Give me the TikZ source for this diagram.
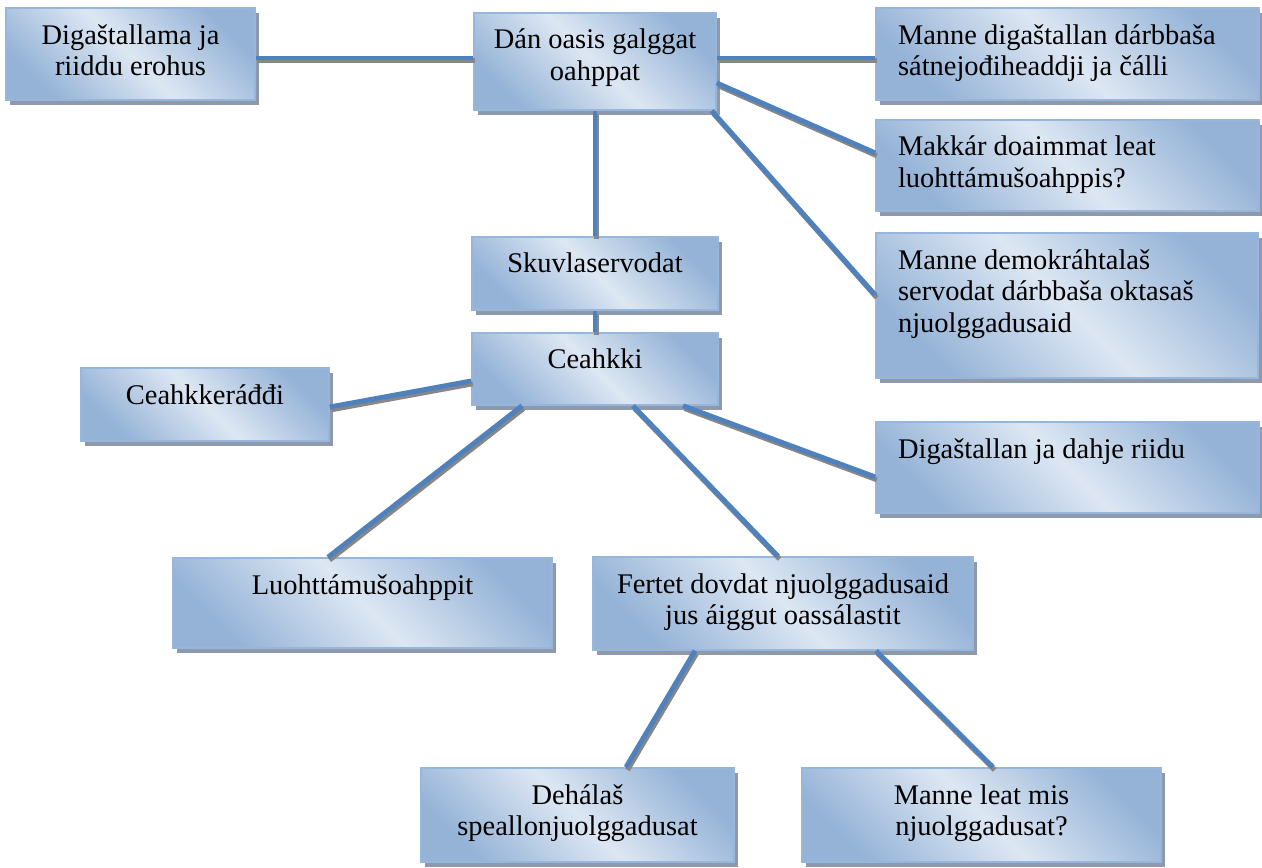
\documentclass[tikz,border=0pt]{standalone}
\usepackage{fontspec}
\setmainfont{Liberation Serif}
\usetikzlibrary{calc,shadows}

\definecolor{boxlight}{RGB}{221,231,243}
\definecolor{boxdark}{RGB}{149,179,215}
\definecolor{boxline}{RGB}{150,182,220}
\definecolor{boxshade}{RGB}{142,154,172}
\definecolor{linkblue}{RGB}{79,129,189}
\definecolor{linkshade}{RGB}{135,135,135}

\newcommand{\mtext}[3]{\parbox[c][#2][t]{#1}{\centering\rule{0pt}{0.72cm}#3}}
\newcommand{\ltext}[3]{\parbox[c][#2][t]{#1}{\raggedright\leftskip=0.44cm\rule{0pt}{0.72cm}#3}}
\newcommand{\link}[2]{%
  \draw[linkback] #1 -- #2;
  \draw[link] #1 -- #2;}

\tikzset{
  box/.style={inner sep=0pt, draw=boxline, line width=0.9pt,
    left color=boxdark, right color=boxdark, middle color=boxlight, shading angle=135,
    drop shadow={shadow xshift=2.3pt, shadow yshift=-2.6pt, fill=boxshade, opacity=1},
    font=\fontsize{16.2}{18.1}\selectfont},
  link/.style={draw=linkblue, line width=2.8pt},
  linkback/.style={draw=linkshade, line width=2.8pt,
    transform canvas={xshift=0.9pt, yshift=-1.6pt}}
}

\begin{document}
\begin{tikzpicture}[x=0.02cm, y=-0.02cm]
\useasboundingbox (0,0) rectangle (1262,868);

\node[box] (erohus) at (130.5,54) {\mtext{4.98cm}{1.84cm}{Digaštallama ja\\riiddu erohus}};
\node[box] (oasis) at (595,61.5) {\mtext{4.84cm}{1.94cm}{Dán oasis galggat\\oahppat}};
\node[box] (satne) at (1067.5,54) {\ltext{7.66cm}{1.84cm}{Manne digaštallan dárbbaša\\sátnejođiheaddji ja čálli}};
\node[box] (doaimmat) at (1067.5,165.5) {\ltext{7.66cm}{1.82cm}{Makkár doaimmat leat\\luohttámušoahppis?}};
\node[box] (demo) at (1067,305.5) {\ltext{7.64cm}{2.9cm}{Manne demokráhtalaš\\servodat dárbbaša oktasaš\\njuolggadusaid}};
\node[box] (skuvla) at (595,273.5) {\mtext{4.92cm}{1.46cm}{Skuvlaservodat}};
\node[box] (ceahkki) at (595,369) {\mtext{4.92cm}{1.44cm}{Ceahkki}};
\node[box] (radi) at (205,404.5) {\mtext{4.96cm}{1.46cm}{Ceahkkeráđđi}};
\node[box] (riidu) at (1067.5,467.5) {\ltext{7.66cm}{1.82cm}{Digaštallan ja dahje riidu}};
\node[box] (luohtta) at (362.5,603) {\mtext{7.58cm}{1.8cm}{Luohttámušoahppit}};
\node[box] (dovdat) at (783,603.5) {\mtext{7.6cm}{1.86cm}{Fertet dovdat njuolggadusaid\\jus áiggut oassálastit}};
\node[box] (spealli) at (577.5,815) {\mtext{6.26cm}{1.88cm}{Dehálaš\\speallonjuolggadusat}};
\node[box] (manne) at (981.5,815) {\mtext{7.18cm}{1.88cm}{Manne leat mis\\njuolggadusat?}};

\link{($(erohus.east)+(0,4)$)}{($(oasis.west)+(0,-3.5)$)}
\link{($(oasis.east)+(0,-3.5)$)}{($(satne.west)+(0,4)$)}
\link{($(oasis.east)+(0,21.5)$)}{($(doaimmat.west)+(0,-12.5)$)}
\link{($(oasis.south east)+(-5,0)$)}{($(demo.west)+(0,-10.5)$)}
\link{(oasis.south)}{(skuvla.north)}
\link{(skuvla.south)}{(ceahkki.north)}
\link{($(radi.east)+(0,2.5)$)}{($(ceahkki.west)+(0,12)$)}
\link{($(ceahkki.south)+(-73,0)$)}{($(luohtta.north)+(-34.5,0)$)}
\link{($(ceahkki.south)+(38,0)$)}{($(dovdat.north)+(-5,0)$)}
\link{($(ceahkki.south)+(88,0)$)}{($(riidu.west)+(0,9.5)$)}
\link{($(dovdat.south)+(-88,0)$)}{($(spealli.north)+(48.5,0)$)}
\link{($(dovdat.south)+(93,0)$)}{($(manne.north)+(11.5,0)$)}
\end{tikzpicture}
\end{document}
